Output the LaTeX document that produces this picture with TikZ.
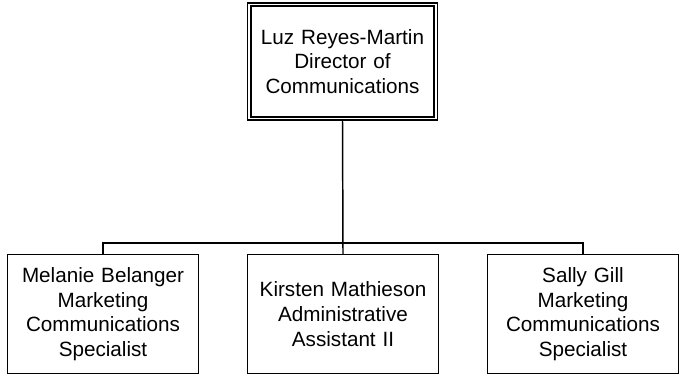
\documentclass[tikz,border=0pt]{standalone}
\usepackage{fontspec}
\setmainfont{Liberation Sans}
\usetikzlibrary{positioning,calc}
\definecolor{ink}{HTML}{000000}
\definecolor{surface}{HTML}{FFFFFF}
\tikzset{
  person/.style={draw=ink, line width=1.1pt, fill=surface, align=center,
                 font=\fontsize{15.5}{18.5}\selectfont, inner sep=2pt, text width=136pt,
                 minimum width=143pt, minimum height=89pt},
  head/.style={person, double=surface, double distance=1.4pt, line width=1.2pt,
               minimum width=140pt, minimum height=85.5pt},
  conn/.style={line width=1.1pt, draw=ink},
}

\begin{document}
\begin{tikzpicture}[x=0.75pt,y=0.75pt]
  \useasboundingbox (0,0) rectangle (681,376);
  % director
  \node[head] (dir) at (342.5,314.5) {Luz Reyes-Martin\\ Director of\\ Communications};
  % reports
  \node[person] (mel) at (103,62)   {Melanie Belanger\\ Marketing\\ Communications\\ Specialist};
  \node[person] (kir) at (343,62)   {Kirsten Mathieson\\ Administrative\\ Assistant II};
  \node[person] (sal) at (583,62)   {Sally Gill\\ Marketing\\ Communications\\ Specialist};
  % connectors (orthogonal)
  \draw[conn] (dir.south) -- (kir.north);
  \draw[conn] (mel.north) -- ++(0,11) -| (sal.north);
\end{tikzpicture}
\end{document}
